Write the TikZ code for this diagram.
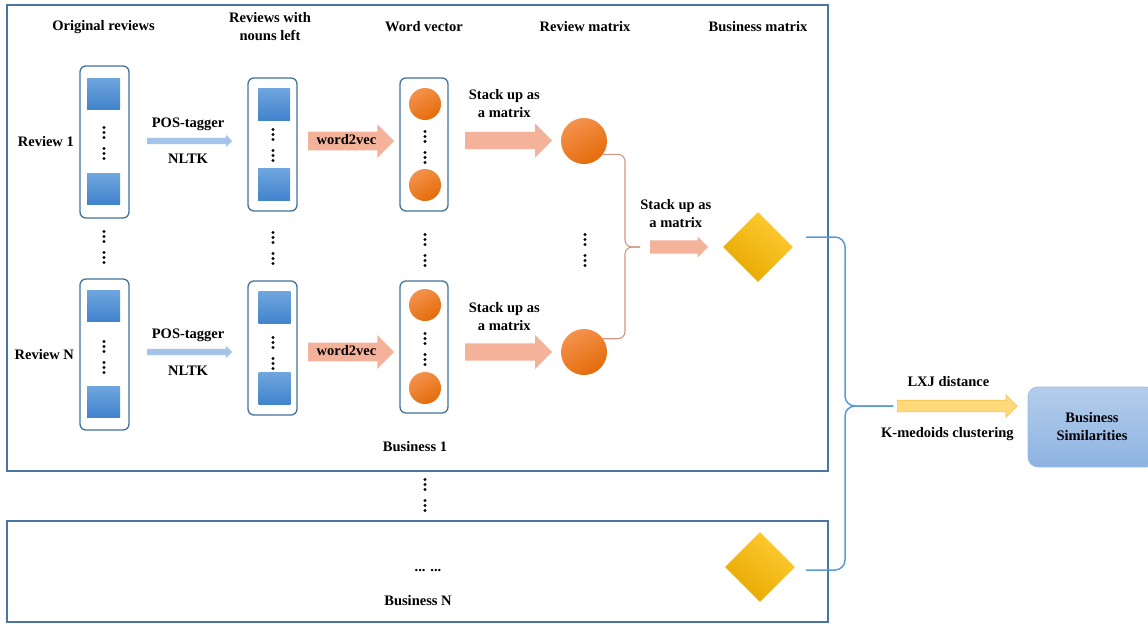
\documentclass[tikz,border=0pt]{standalone}
\usepackage{fontspec}
\setmainfont{Liberation Serif}
\usetikzlibrary{positioning,shapes.geometric,shapes.arrows}

\definecolor{BoxBlue}{HTML}{4A74A2}
\definecolor{ColBlue}{HTML}{41719C}
\definecolor{SqTop}{HTML}{6FA6DE}
\definecolor{SqBot}{HTML}{4283CC}
\definecolor{DotTop}{HTML}{F4924C}
\definecolor{DotBot}{HTML}{E46C0A}
\definecolor{GemTop}{HTML}{FFCC33}
\definecolor{GemBot}{HTML}{E6A800}
\definecolor{Salmon}{HTML}{F4B29A}
\definecolor{PosBlue}{HTML}{A3C3E8}
\definecolor{LxjYellow}{HTML}{FFD97A}
\definecolor{LxjEdge}{HTML}{F3C24F}
\definecolor{SimTop}{HTML}{B4CDEB}
\definecolor{SimBot}{HTML}{8DB3E2}
\definecolor{BraceBlue}{HTML}{5B9BD5}

% two stacked vertical ellipses at (#1,#2)
\newcommand{\vdotpair}[2]{%
  \foreach \dy in {-15.5,-10.5,-5.5,5.5,10.5,15.5}
    \fill (#1,{#2+\dy}) circle[radius=1.7pt];}

\begin{document}
\begin{tikzpicture}[
		x=1pt,
		y=-1pt,
		every node/.style={font=\fontsize{14.5}{18}\selectfont\bfseries, align=center},
		bizbox/.style={draw=BoxBlue, line width=2.6pt, minimum width=821pt, inner sep=0pt},
		column/.style={draw=ColBlue, line width=1.3pt, rounded corners=6pt, minimum width=49pt, inner sep=0pt},
		word/.style={top color=SqTop, bottom color=SqBot, minimum width=33pt, minimum height=31pt, inner sep=0pt},
		vec/.style={circle, top color=DotTop, bottom color=DotBot, shading angle=30, minimum size=32pt, inner sep=0pt},
		revmat/.style={vec, minimum size=46pt},
		bizmat/.style={diamond, aspect=1, top color=GemTop, bottom color=GemBot, shading angle=-40, minimum width=70pt, minimum height=70pt, inner sep=0pt},
		posarrow/.style={single arrow, fill=PosBlue, minimum height=85pt, inner xsep=0pt, inner ysep=3pt, text height=0pt, text depth=0pt, single arrow head extend=3pt},
		w2varrow/.style={single arrow, fill=Salmon, minimum height=86pt, inner xsep=1pt, inner ysep=3pt, text height=9.5pt, text depth=3pt, single arrow head extend=7.5pt},
		stackarrow/.style={single arrow, fill=Salmon, minimum height=87pt, inner xsep=0pt, inner ysep=8.5pt, text height=0pt, text depth=0pt, single arrow head extend=8.5pt},
		smallarrow/.style={single arrow, fill=Salmon, minimum height=58pt, inner xsep=0pt, inner ysep=6.5pt, text height=0pt, text depth=0pt, single arrow head extend=4pt},
		lxjarrow/.style={single arrow, fill=LxjYellow, draw=LxjEdge, line width=0.6pt, minimum height=120pt, inner xsep=0pt, inner ysep=5.5pt, text height=0pt, text depth=0pt, single arrow head extend=5.5pt},
		tag/.style={text height=10pt, text depth=3pt},
		obrace/.style={draw=Salmon!85!black, line width=1.1pt, rounded corners=7pt},
		bbrace/.style={draw=BraceBlue, line width=1.5pt, rounded corners=10pt},
		simbox/.style={draw=SimBot!90!white, line width=0.8pt, rounded corners=10pt, top color=SimTop, bottom color=SimBot, minimum width=128pt, minimum height=80pt}
		]
		
		\useasboundingbox (0,0) rectangle (1148,625);
		
		% outer frames for business 1 and business N
		\node[bizbox, minimum height=466pt] (biz1) at (417.5,238) {};
		\node[bizbox, minimum height=101pt] (bizN) at (417.5,571.5) {};
		
		% column headers
		\node (hOrig) at (103.5,27) {Original reviews};
		\node (hNoun) at (270,27) {Reviews with\\nouns left};
		\node (hVec) at (424,27) {Word vector};
		\node (hRev) at (585,27) {Review matrix};
		\node (hBiz) at (758,27) {Business matrix};
		
		% review 1 row
		\node[column, minimum height=152pt] (orig1) at (104.5,142) {};
		\node[word] (o1a) at (103.5,93.5) {};
		\node[word] (o1b) at (103.5,188.5) {};
		\vdotpair{104}{143}
		\node[left=2pt of orig1] (rev1) {Review 1};
		
		\node[column, minimum height=133pt] (noun1) at (272.5,144.5) {};
		\node[word, minimum width=32pt, minimum height=32pt] (n1a) at (274,104) {};
		\node[word, minimum width=32pt, minimum height=32pt] (n1b) at (274,184.5) {};
		\vdotpair{273}{145}
		
		\node[column, minimum width=48pt, minimum height=133pt] (vec1) at (424,144.5) {};
		\node[vec] (v1a) at (425,104) {};
		\node[vec] (v1b) at (425,185) {};
		\vdotpair{425}{147}
		
		\node[revmat] (rm1) at (584,141) {};
		
		\node[posarrow, anchor=tail] (pos1) at (147,141) {};
		\node[tag, above=4pt of pos1] (pt1) {POS-tagger};
		\node[tag, below=6pt of pos1] (nl1) {NLTK};
		\node[w2varrow, anchor=tail] (w2v1) at (308,141) {word2vec};
		\node[stackarrow, anchor=tail] (st1) at (465,140.5) {};
		\node[above=10pt of st1] (sl1) {Stack up as\\a matrix};
		
		% dots between the two rows
		\vdotpair{104}{247}
		\vdotpair{273}{248}
		\vdotpair{425}{250}
		\vdotpair{585}{250}
		
		% review N row
		\node[column, minimum height=151pt] (origN) at (104.5,354.5) {};
		\node[word] (oNa) at (103.5,305.5) {};
		\node[word] (oNb) at (103.5,401.5) {};
		\vdotpair{104}{357}
		\node[left=2pt of origN] (revN) {Review N};
		
		\node[column, minimum height=134pt] (nounN) at (272.5,348) {};
		\node[word, minimum width=32pt, minimum height=32pt] (nNa) at (274.5,307.5) {};
		\node[word, minimum width=32pt, minimum height=32pt] (nNb) at (274.5,388.5) {};
		\vdotpair{273}{353}
		
		\node[column, minimum width=48pt, minimum height=132pt] (vecN) at (424,347) {};
		\node[vec] (vNa) at (425,305) {};
		\node[vec] (vNb) at (425,388) {};
		\vdotpair{425}{349}
		
		\node[revmat] (rmN) at (584,352) {};
		
		\node[posarrow, anchor=tail] (posN) at (147,352) {};
		\node[tag, above=4pt of posN] (ptN) {POS-tagger};
		\node[tag, below=7pt of posN] (nlN) {NLTK};
		\node[w2varrow, anchor=tail] (w2vN) at (308,352) {word2vec};
		\node[stackarrow, anchor=tail] (stN) at (465,352) {};
		\node[above=9pt of stN] (slN) {Stack up as\\a matrix};
		
		% review matrices stacked into the business matrix
		\node[smallarrow, anchor=tail] (stk) at (650,247) {};
		\node[above=8.5pt of stk] (skl) {Stack up as\\a matrix};
		\coordinate[left=10pt of stk.tail] (otip);
		\draw[obrace] (rm1.-35) -| ([xshift=-15pt]otip) -- (otip);
		\draw[obrace] (rmN.35) -| ([xshift=-15pt]otip) -- (otip);
		\node[bizmat] (dm1) at (758,247) {};
		
		\node (lbl1) at (415,447) {Business 1};
		
		% dots between the business frames
		\vdotpair{425}{495}
		
		% business N
		\node (more) at (428,571) {... ...};
		\node (lblN) at (418,601) {Business N};
		\node[bizmat] (dmN) at (760,567) {};
		
		% all business matrices into the clustering step
		\node[lxjarrow, anchor=tail] (lxj) at (897,406) {};
		\node[tag, above=7pt of lxj, xshift=-6pt] (lxjl) {LXJ distance};
		\node[tag, below=12pt of lxj, xshift=-7pt] (kml) {K-medoids clustering};
		\coordinate[left=4pt of lxj.tail] (btip);
		\draw[bbrace] ([xshift=13pt,yshift=10pt]dm1.east) -| ([xshift=-48pt]btip) -- (btip);
		\draw[bbrace] ([xshift=11pt,yshift=-3pt]dmN.east) -| ([xshift=-48pt]btip) -- (btip);
		
		\node[simbox] (sim) at (1092,427) {Business\\Similarities};
		
	\end{tikzpicture}
\end{document}
